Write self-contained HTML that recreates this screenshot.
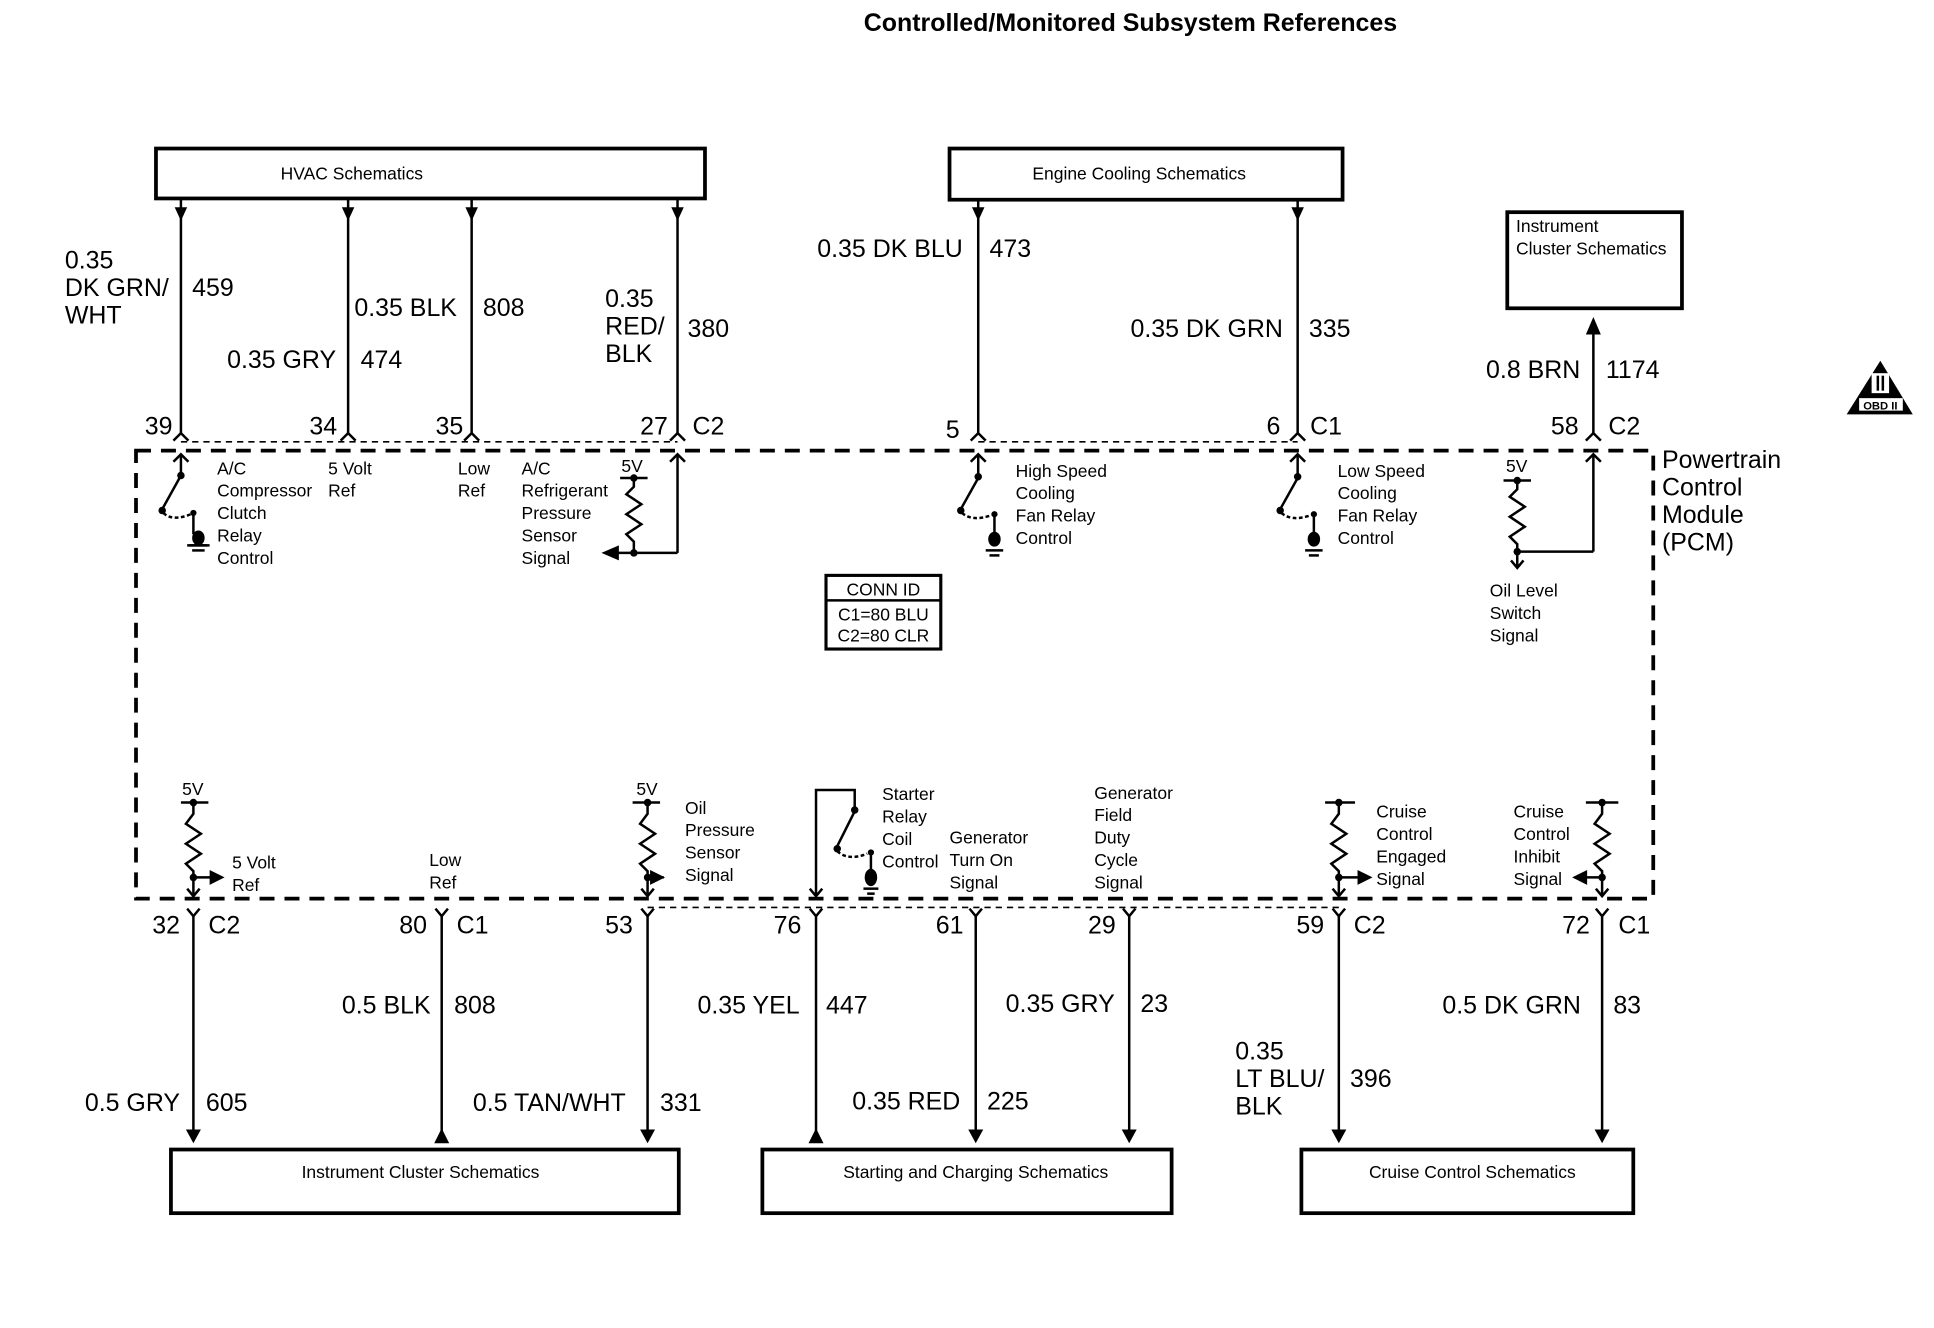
<!DOCTYPE html>
<html><head><style>
html,body{margin:0;padding:0;background:#fff;}
svg{display:block;}
text{font-family:"Liberation Sans",Arial,sans-serif;fill:#000;}
.t{font-size:14px;}
.w{font-size:20px;}
</style></head><body>
<svg width="1934" height="1328" viewBox="0 0 1550 1064" preserveAspectRatio="none" xmlns="http://www.w3.org/2000/svg">
<rect width="1550" height="1064" fill="#fff"/>
<text x="906" y="25" font-size="20" font-weight="bold" text-anchor="middle">Controlled/Monitored Subsystem References</text>

<g fill="none" stroke="#000" stroke-width="3">
<rect x="125" y="119" width="440" height="40"/>
<rect x="761" y="119" width="315" height="41"/>
<rect x="1208" y="170" width="140" height="77"/>
<rect x="137" y="921" width="407" height="51"/>
<rect x="611" y="921" width="328" height="51"/>
<rect x="1043" y="921" width="266" height="51"/>
</g>
<text x="282" y="144" class="t" text-anchor="middle">HVAC Schematics</text>
<text x="913" y="144" class="t" text-anchor="middle">Engine Cooling Schematics</text>
<text x="1215" y="186" class="t">Instrument</text>
<text x="1215" y="204" class="t">Cluster Schematics</text>
<text x="337" y="944" class="t" text-anchor="middle">Instrument Cluster Schematics</text>
<text x="782" y="944" class="t" text-anchor="middle">Starting and Charging Schematics</text>
<text x="1180" y="944" class="t" text-anchor="middle">Cruise Control Schematics</text>

<!-- PCM dashed box -->
<rect x="109" y="361" width="1216" height="359" fill="none" stroke="#000" stroke-width="3" stroke-dasharray="12,8"/>
<line x1="145" y1="354" x2="543" y2="354" stroke="#000" stroke-width="1.3" stroke-dasharray="5,4"/>
<line x1="784" y1="354" x2="1040" y2="354" stroke="#000" stroke-width="1.3" stroke-dasharray="5,4"/>
<line x1="519" y1="727" x2="1073" y2="727" stroke="#000" stroke-width="1.3" stroke-dasharray="5,4"/>

<!-- top wires -->
<g stroke="#000" stroke-width="2" fill="none">
<line x1="145" y1="160" x2="145" y2="347"/>
<line x1="279" y1="160" x2="279" y2="347"/>
<line x1="378" y1="160" x2="378" y2="347"/>
<line x1="543" y1="160" x2="543" y2="347"/>
<line x1="784" y1="160" x2="784" y2="347"/>
<line x1="1040" y1="160" x2="1040" y2="347"/>
<line x1="1277" y1="262" x2="1277" y2="347"/>
<polyline points="139,353 145,347 151,353"/>
<polyline points="273,353 279,347 285,353"/>
<polyline points="372,353 378,347 384,353"/>
<polyline points="537,353 543,347 549,353"/>
<polyline points="778,353 784,347 790,353"/>
<polyline points="1034,353 1040,347 1046,353"/>
<polyline points="1271,353 1277,347 1283,353"/>
</g>
<g fill="#000">
<polygon points="140,166 150,166 145,177"/>
<polygon points="274,166 284,166 279,177"/>
<polygon points="373,166 383,166 378,177"/>
<polygon points="538,166 548,166 543,177"/>
<polygon points="779,166 789,166 784,177"/>
<polygon points="1035,166 1045,166 1040,177"/>
<polygon points="1271,268 1283,268 1277,254"/>
</g>

<!-- top wire labels -->
<g class="w">
<text x="52" y="215">0.35</text>
<text x="52" y="237">DK GRN/</text>
<text x="52" y="259">WHT</text>
<text x="154" y="237">459</text>
<text x="182" y="295">0.35 GRY</text>
<text x="289" y="295">474</text>
<text x="284" y="253">0.35 BLK</text>
<text x="387" y="253">808</text>
<text x="485" y="246">0.35</text>
<text x="485" y="268">RED/</text>
<text x="485" y="290">BLK</text>
<text x="551" y="270">380</text>
<text x="655" y="206">0.35 DK BLU</text>
<text x="793" y="206">473</text>
<text x="906" y="270">0.35 DK GRN</text>
<text x="1049" y="270">335</text>
<text x="1191" y="303">0.8 BRN</text>
<text x="1287" y="303">1174</text>
<text x="116" y="348">39</text>
<text x="248" y="348">34</text>
<text x="349" y="348">35</text>
<text x="513" y="348">27</text>
<text x="555" y="348">C2</text>
<text x="758" y="351">5</text>
<text x="1015" y="348">6</text>
<text x="1050" y="348">C1</text>
<text x="1243" y="348">58</text>
<text x="1289" y="348">C2</text>
</g>

<text x="1332" y="375" font-size="20">Powertrain</text>
<text x="1332" y="397" font-size="20">Control</text>
<text x="1332" y="419" font-size="20">Module</text>
<text x="1332" y="441" font-size="20">(PCM)</text>

<!-- OBD II -->
<polygon points="1507,289 1480,332 1533,332" fill="#000"/>
<rect x="1500" y="299" width="14" height="16" fill="#fff"/>
<rect x="1504" y="301" width="2" height="12" fill="#000"/>
<rect x="1508" y="301" width="2" height="12" fill="#000"/>
<rect x="1490" y="319" width="35" height="10" fill="#fff"/>
<text x="1507" y="328" font-size="9" font-weight="bold" text-anchor="middle">OBD II</text>

<!-- inside top components -->
<g stroke="#000" stroke-width="2" fill="none">
<!-- A/C clutch switch -->
<line x1="145" y1="364" x2="145" y2="380"/>
<polyline points="139,370 145,364 151,370"/>
<line x1="145" y1="381" x2="130" y2="408"/>
<path d="M131,411 Q138,418 153,412" stroke-dasharray="3,2"/>
<line x1="155" y1="412" x2="155" y2="428"/>
<line x1="152" y1="437" x2="166" y2="437"/><line x1="154" y1="441" x2="164" y2="441"/>
<!-- 380 sensor -->
<line x1="543" y1="364" x2="543" y2="443"/>
<polyline points="537,370 543,364 549,370"/>
<line x1="543" y1="443" x2="490" y2="443"/>
<line x1="497" y1="383" x2="519" y2="383"/>
<polyline points="508,383 508,390 502,396 514,404 502,412 514,420 502,428 508,434 508,443"/>
<!-- high speed fan -->
<line x1="784" y1="364" x2="784" y2="382"/>
<polyline points="778,370 784,364 790,370"/>
<line x1="784" y1="383" x2="770" y2="408"/>
<path d="M771,411 Q779,418 794,413" stroke-dasharray="3,2"/>
<line x1="797" y1="413" x2="797" y2="428"/>
<line x1="790" y1="441" x2="804" y2="441"/><line x1="793" y1="445" x2="801" y2="445"/>
<!-- low speed fan -->
<line x1="1040" y1="364" x2="1040" y2="382"/>
<polyline points="1034,370 1040,364 1046,370"/>
<line x1="1040" y1="383" x2="1026" y2="408"/>
<path d="M1027,411 Q1035,418 1050,413" stroke-dasharray="3,2"/>
<line x1="1053" y1="413" x2="1053" y2="428"/>
<line x1="1046" y1="441" x2="1060" y2="441"/><line x1="1049" y1="445" x2="1057" y2="445"/>
<!-- oil level -->
<line x1="1277" y1="364" x2="1277" y2="442"/>
<polyline points="1271,370 1277,364 1283,370"/>
<line x1="1277" y1="442" x2="1216" y2="442"/>
<line x1="1205" y1="385" x2="1227" y2="385"/>
<polyline points="1216,385 1216,392 1210,398 1222,406 1210,414 1222,422 1210,430 1216,436 1216,454"/>
<polyline points="1211,449 1216,455 1221,449"/>
</g>
<g fill="#000">
<circle cx="145" cy="381" r="3"/><circle cx="130" cy="409" r="3"/><circle cx="155" cy="411" r="2.5"/>
<ellipse cx="159" cy="431" rx="5" ry="6"/>
<line x1="150" y1="437" x2="168" y2="437" stroke="#000" stroke-width="2"/>
<circle cx="508" cy="383" r="3"/><circle cx="508" cy="443" r="3"/>
<polygon points="482,443 496,437 496,449"/>
<circle cx="784" cy="382" r="3"/><circle cx="770" cy="409" r="3"/><circle cx="797" cy="412" r="2.5"/>
<ellipse cx="797" cy="432" rx="5" ry="6"/>
<circle cx="1040" cy="382" r="3"/><circle cx="1026" cy="409" r="3"/><circle cx="1053" cy="412" r="2.5"/>
<ellipse cx="1053" cy="432" rx="5" ry="6"/>
<circle cx="1216" cy="385" r="3"/><circle cx="1216" cy="442" r="3"/>
</g>
<g class="t">
<text x="174" y="380">A/C</text><text x="174" y="398">Compressor</text><text x="174" y="416">Clutch</text><text x="174" y="434">Relay</text><text x="174" y="452">Control</text>
<text x="263" y="380">5 Volt</text><text x="263" y="398">Ref</text>
<text x="367" y="380">Low</text><text x="367" y="398">Ref</text>
<text x="418" y="380">A/C</text><text x="418" y="398">Refrigerant</text><text x="418" y="416">Pressure</text><text x="418" y="434">Sensor</text><text x="418" y="452">Signal</text>
<text x="498" y="378">5V</text>
<text x="814" y="382">High Speed</text><text x="814" y="400">Cooling</text><text x="814" y="418">Fan Relay</text><text x="814" y="436">Control</text>
<text x="1072" y="382">Low Speed</text><text x="1072" y="400">Cooling</text><text x="1072" y="418">Fan Relay</text><text x="1072" y="436">Control</text>
<text x="1207" y="378">5V</text>
<text x="1194" y="478">Oil Level</text><text x="1194" y="496">Switch</text><text x="1194" y="514">Signal</text>
</g>

<!-- CONN ID -->
<rect x="662" y="461" width="92" height="59" fill="none" stroke="#000" stroke-width="2.5"/>
<line x1="662" y1="481" x2="754" y2="481" stroke="#000" stroke-width="2"/>
<text x="708" y="477" class="t" text-anchor="middle">CONN ID</text>
<text x="708" y="497" class="t" text-anchor="middle">C1=80 BLU</text>
<text x="708" y="514" class="t" text-anchor="middle">C2=80 CLR</text>

<!-- bottom inside components -->
<g stroke="#000" stroke-width="2" fill="none">
<!-- 5 volt ref (32) -->
<line x1="145" y1="643" x2="167" y2="643"/>
<polyline points="155,643 155,652 149,660 161,668 149,676 161,684 149,692 155,698 155,718"/>
<line x1="155" y1="703" x2="170" y2="703"/>
<polyline points="150,712 155,718 160,712"/>
<!-- oil pressure (53) -->
<line x1="507" y1="643" x2="529" y2="643"/>
<polyline points="519,643 519,652 513,660 525,668 513,676 525,684 513,692 519,698 519,718"/>
<line x1="519" y1="703" x2="532" y2="703"/>
<polyline points="514,712 519,718 524,712"/>
<!-- starter -->
<polyline points="654,718 654,633 685,633 685,648"/>
<polyline points="649,712 654,718 659,712"/>
<line x1="685" y1="650" x2="671" y2="678"/>
<path d="M671,682 Q680,690 695,684" stroke-dasharray="3,2"/>
<line x1="698" y1="683" x2="698" y2="700"/>
<line x1="692" y1="712" x2="704" y2="712"/><line x1="695" y1="716" x2="701" y2="716"/>
<!-- cruise engaged (59) -->
<line x1="1062" y1="643" x2="1086" y2="643"/>
<polyline points="1073,643 1073,652 1067,660 1079,668 1067,676 1079,684 1067,692 1073,698 1073,718"/>
<line x1="1073" y1="703" x2="1088" y2="703"/>
<polyline points="1068,712 1073,718 1078,712"/>
<!-- cruise inhibit (72) -->
<line x1="1271" y1="643" x2="1297" y2="643"/>
<polyline points="1284,643 1284,652 1278,660 1290,668 1278,676 1290,684 1278,692 1284,698 1284,718"/>
<line x1="1284" y1="703" x2="1270" y2="703"/>
<polyline points="1279,712 1284,718 1289,712"/>
</g>
<g fill="#000">
<circle cx="155" cy="643" r="3"/><circle cx="155" cy="703" r="3"/><polygon points="180,703 168,697 168,709"/>
<circle cx="519" cy="643" r="3"/><circle cx="519" cy="703" r="3"/><polygon points="533,703 521,697 521,709"/>
<circle cx="685" cy="649" r="3"/><circle cx="671" cy="680" r="3"/><circle cx="698" cy="683" r="2.5"/>
<ellipse cx="698" cy="703" rx="5" ry="7"/>
<circle cx="1073" cy="643" r="3"/><circle cx="1073" cy="703" r="3"/><polygon points="1100,703 1088,697 1088,709"/>
<circle cx="1284" cy="643" r="3"/><circle cx="1284" cy="703" r="3"/><polygon points="1260,703 1272,697 1272,709"/>
</g>
<g class="t">
<text x="146" y="637">5V</text>
<text x="186" y="696">5 Volt</text><text x="186" y="714">Ref</text>
<text x="344" y="694">Low</text><text x="344" y="712">Ref</text>
<text x="510" y="637">5V</text>
<text x="549" y="652">Oil</text><text x="549" y="670">Pressure</text><text x="549" y="688">Sensor</text><text x="549" y="706">Signal</text>
<text x="707" y="641">Starter</text><text x="707" y="659">Relay</text><text x="707" y="677">Coil</text><text x="707" y="695">Control</text>
<text x="761" y="676">Generator</text><text x="761" y="694">Turn On</text><text x="761" y="712">Signal</text>
<text x="877" y="640">Generator</text><text x="877" y="658">Field</text><text x="877" y="676">Duty</text><text x="877" y="694">Cycle</text><text x="877" y="712">Signal</text>
<text x="1103" y="655">Cruise</text><text x="1103" y="673">Control</text><text x="1103" y="691">Engaged</text><text x="1103" y="709">Signal</text>
<text x="1213" y="655">Cruise</text><text x="1213" y="673">Control</text><text x="1213" y="691">Inhibit</text><text x="1213" y="709">Signal</text>
</g>

<!-- bottom wires -->
<g stroke="#000" stroke-width="2" fill="none">
<line x1="155" y1="734" x2="155" y2="906"/>
<line x1="354" y1="734" x2="354" y2="912"/>
<line x1="519" y1="734" x2="519" y2="906"/>
<line x1="654" y1="734" x2="654" y2="912"/>
<line x1="782" y1="734" x2="782" y2="906"/>
<line x1="905" y1="734" x2="905" y2="906"/>
<line x1="1073" y1="734" x2="1073" y2="906"/>
<line x1="1284" y1="734" x2="1284" y2="906"/>
<polyline points="150,728 155,734 160,728"/>
<polyline points="349,728 354,734 359,728"/>
<polyline points="514,728 519,734 524,728"/>
<polyline points="649,728 654,734 659,728"/>
<polyline points="777,728 782,734 787,728"/>
<polyline points="900,728 905,734 910,728"/>
<polyline points="1068,728 1073,734 1078,728"/>
<polyline points="1279,728 1284,734 1289,728"/>
</g>
<g fill="#000">
<polygon points="149,905 161,905 155,916"/>
<polygon points="348,916 360,916 354,904"/>
<polygon points="513,905 525,905 519,916"/>
<polygon points="648,916 660,916 654,904"/>
<polygon points="776,905 788,905 782,916"/>
<polygon points="899,905 911,905 905,916"/>
<polygon points="1067,905 1079,905 1073,916"/>
<polygon points="1278,905 1290,905 1284,916"/>
</g>
<g class="w">
<text x="122" y="748">32</text><text x="167" y="748">C2</text>
<text x="320" y="748">80</text><text x="366" y="748">C1</text>
<text x="485" y="748">53</text>
<text x="620" y="748">76</text>
<text x="750" y="748">61</text>
<text x="872" y="748">29</text>
<text x="1039" y="748">59</text><text x="1085" y="748">C2</text>
<text x="1252" y="748">72</text><text x="1297" y="748">C1</text>
<text x="274" y="812">0.5 BLK</text><text x="364" y="812">808</text>
<text x="559" y="812">0.35 YEL</text><text x="662" y="812">447</text>
<text x="806" y="811">0.35 GRY</text><text x="914" y="811">23</text>
<text x="1156" y="812">0.5  DK GRN</text><text x="1293" y="812">83</text>
<text x="68" y="890">0.5 GRY</text><text x="165" y="890">605</text>
<text x="379" y="890">0.5  TAN/WHT</text><text x="529" y="890">331</text>
<text x="683" y="889">0.35 RED</text><text x="791" y="889">225</text>
<text x="990" y="849">0.35</text><text x="990" y="871">LT BLU/</text><text x="990" y="893">BLK</text>
<text x="1082" y="871">396</text>
</g>
</svg>
</body></html>
